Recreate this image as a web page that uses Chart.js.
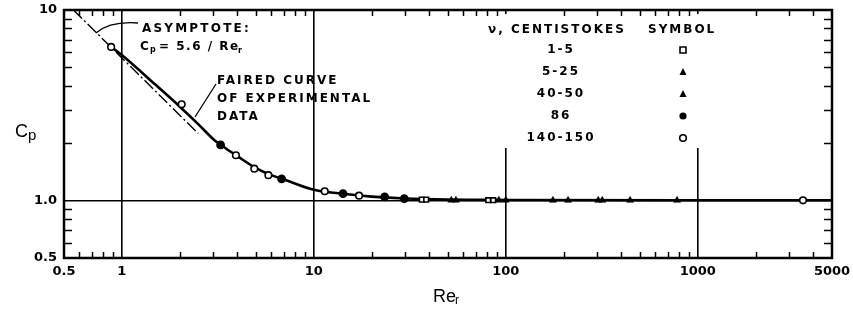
<!DOCTYPE html>
<html>
<head>
<meta charset="utf-8">
<script src="https://cdn.jsdelivr.net/npm/chart.js@4.4.0/dist/chart.umd.min.js"></script>
<style>
  html, body { margin: 0; padding: 0; background: #fff; }
  #wrap { width: 853px; height: 323px; }
</style>
</head>
<body>
<div id="wrap"><canvas id="cpChart" width="853" height="323"></canvas></div>
<script>
// Axis ticks
const xTicks = [0.5, 1, 10, 100, 1000, 5000];
const xTickLabels = ["0.5", "1", "10", "100", "1000", "5000"];
const xGrid = [1, 10, 100, 1000];
const xMinor = [0.6, 0.7, 0.8, 0.9, 2, 3, 4, 5, 6, 7, 8, 9, 20, 30, 40, 50, 60, 70, 80, 90,
                200, 300, 400, 500, 600, 700, 800, 900, 2000, 3000, 4000];
const yTicks = [0.5, 1, 10];
const yTickLabels = ["0.5", "1.0", "10"];
const yGrid = [1];
const yMinor = [0.6, 0.7, 0.8, 0.9, 2, 3, 4, 5, 6, 7, 8, 9];

// Faired curve of experimental data
const curveRe = [0.9, 1, 1.5, 2, 2.5, 3, 3.5, 4, 5, 6, 7, 10, 15, 20, 30, 50, 100, 1000, 5000];
const curveCp = [6.3, 5.8, 4.05, 3.12, 2.52, 2.1, 1.87, 1.71, 1.48, 1.36, 1.29, 1.14, 1.08, 1.05, 1.025, 1.012, 1.008, 1.005, 1.005];

// Asymptote Cp = 5.6 / Re (end points)
const asymRe = [0.56, 2.5];
const asymCp = [10, 2.25];

// Data by viscosity range (centistokes)
const re_1_5 = [36.5, 38.5, 81, 86];
const cp_1_5 = [1.012, 1.012, 1.005, 1.005];
const re_5_25 = [52, 55, 92, 100];
const cp_5_25 = [1.005, 1.005, 1.005, 1.005];
const re_40_50 = [176, 211, 303, 318, 444, 780];
const cp_40_50 = [1.003, 1.003, 1.003, 1.003, 1.003, 1.003];
const re_86 = [3.27, 6.8, 14.2, 23.4, 29.6];
const cp_86 = [1.96, 1.30, 1.088, 1.045, 1.025];
const re_140_150 = [0.88, 2.05, 3.93, 4.9, 5.8, 11.4, 17.2, 3530];
const cp_140_150 = [6.4, 3.2, 1.73, 1.47, 1.36, 1.12, 1.062, 1.003];

const legendRows = ["1-5", "5-25", "40-50", "86", "140-150"];

function pts(xs, ys) {
    return xs.map((x, i) => ({ x: x, y: ys[i] }));
}

function drawMarker(ctx, kind, x, y) {
    ctx.save();
    ctx.lineWidth = 1.6;
    ctx.strokeStyle = "#000";
    ctx.beginPath();
    if (kind === "square") {
        ctx.fillStyle = "#fff";
        ctx.rect(x - 3, y - 3, 6, 6);
        ctx.fill();
        ctx.stroke();
    } else if (kind === "triangle") {
        ctx.fillStyle = "#000";
        ctx.moveTo(x, y - 4);
        ctx.lineTo(x + 3.5, y + 3);
        ctx.lineTo(x - 3.5, y + 3);
        ctx.closePath();
        ctx.fill();
    } else if (kind === "dot") {
        ctx.fillStyle = "#000";
        ctx.arc(x, y, 3.6, 0, Math.PI * 2);
        ctx.fill();
    } else {
        ctx.fillStyle = "#fff";
        ctx.arc(x, y, 3.3, 0, Math.PI * 2);
        ctx.fill();
        ctx.stroke();
    }
    ctx.restore();
}

const legendKinds = ["square", "triangle", "triangle", "dot", "circle"];

const lettering = "DejaVu Sans, sans-serif";

const decorPlugin = {
    id: "decor",
    beforeDatasetsDraw(chart) {
        const ctx = chart.ctx;
        // legend area blanks out the grid lines behind it
        ctx.save();
        ctx.fillStyle = "#fff";
        ctx.fillRect(478, 14, 256, 134);
        ctx.restore();
    },
    afterDraw(chart) {
        const ctx = chart.ctx;
        const xs = chart.scales.x, ys = chart.scales.y;
        const a = chart.chartArea;
        ctx.save();
        ctx.strokeStyle = "#000";

        // minor ticks, pointing inward
        ctx.lineWidth = 1.5;
        xMinor.forEach(v => {
            const px = Math.round(xs.getPixelForValue(v)) + 0.5;
            ctx.beginPath();
            ctx.moveTo(px, a.bottom); ctx.lineTo(px, a.bottom - 6);
            ctx.moveTo(px, a.top); ctx.lineTo(px, a.top + 6);
            ctx.stroke();
        });
        yMinor.forEach(v => {
            const py = Math.round(ys.getPixelForValue(v)) + 0.5;
            ctx.beginPath();
            ctx.moveTo(a.left, py); ctx.lineTo(a.left + 8, py);
            ctx.moveTo(a.right, py); ctx.lineTo(a.right - 8, py);
            ctx.stroke();
        });

        // frame
        ctx.lineWidth = 2.5;
        ctx.strokeRect(a.left, a.top, a.right - a.left, a.bottom - a.top);

        // annotations
        ctx.fillStyle = "#000";
        ctx.textBaseline = "middle";
        ctx.textAlign = "left";
        ctx.font = "bold 12px " + lettering;
        ctx.letterSpacing = "2.2px";
        ctx.fillText("ASYMPTOTE:", 142, 29);
        ctx.fillText("C", 140, 47);
        ctx.font = "bold 8px " + lettering;
        ctx.letterSpacing = "0px";
        ctx.fillText("p", 150, 50);
        ctx.font = "bold 12px " + lettering;
        ctx.letterSpacing = "1.5px";
        ctx.fillText("= 5.6 / Re", 159, 47);
        ctx.font = "bold 8px " + lettering;
        ctx.letterSpacing = "0px";
        ctx.fillText("r", 238, 51);

        ctx.font = "bold 12px " + lettering;
        ctx.letterSpacing = "2px";
        ctx.fillText("FAIRED CURVE", 217, 81);
        ctx.fillText("OF EXPERIMENTAL", 217, 99);
        ctx.fillText("DATA", 217, 117);

        // leader lines
        ctx.lineWidth = 1.3;
        ctx.beginPath();
        ctx.moveTo(138, 23);
        ctx.quadraticCurveTo(110, 21, 96, 33);
        ctx.stroke();
        ctx.beginPath();
        ctx.moveTo(216, 84);
        ctx.lineTo(195, 117);
        ctx.stroke();

        // legend table
        ctx.letterSpacing = "2px";
        ctx.fillText("\u03bd, CENTISTOKES", 488, 30);
        ctx.fillText("SYMBOL", 648, 30);
        ctx.textAlign = "center";
        legendRows.forEach((t, i) => {
            const yy = 50 + i * 22;
            ctx.fillText(t, 561, yy);
            drawMarker(ctx, legendKinds[i], 683, yy);
        });

        // axis titles
        ctx.letterSpacing = "0px";
        ctx.textAlign = "left";
        ctx.font = "18px Liberation Sans, Arial, sans-serif";
        ctx.fillText("C", 15, 132);
        ctx.font = "15px Liberation Sans, Arial, sans-serif";
        ctx.fillText("p", 28, 136);
        ctx.font = "18px Liberation Sans, Arial, sans-serif";
        ctx.fillText("Re", 433, 297);
        ctx.font = "12px Liberation Sans, Arial, sans-serif";
        ctx.fillText("r", 455, 301);
        ctx.restore();
    }
};

function markerSet(label, xs, ys, kind) {
    const base = { label: label, data: pts(xs, ys), showLine: false, borderColor: "#000",
                   pointBorderWidth: 1.6, order: 0 };
    if (kind === "square") return Object.assign(base, { pointStyle: "rect", pointRadius: 3.3, backgroundColor: "#fff" });
    if (kind === "triangle") return Object.assign(base, { pointStyle: "triangle", pointRadius: 4, backgroundColor: "#000", pointBorderWidth: 0.5 });
    if (kind === "dot") return Object.assign(base, { pointStyle: "circle", pointRadius: 3.6, backgroundColor: "#000" });
    return Object.assign(base, { pointStyle: "circle", pointRadius: 3.3, backgroundColor: "#fff" });
}

new Chart(document.getElementById("cpChart"), {
    type: "scatter",
    data: {
        datasets: [
            { label: "Faired curve", data: pts(curveRe, curveCp), showLine: true, pointRadius: 0,
              borderColor: "#000", borderWidth: 2.6, cubicInterpolationMode: "monotone", order: 2 },
            { label: "Asymptote", data: pts(asymRe, asymCp), showLine: true, pointRadius: 0,
              borderColor: "#000", borderWidth: 1.4, borderDash: [12, 3, 2, 3], order: 2 },
            markerSet("1-5", re_1_5, cp_1_5, "square"),
            markerSet("5-25", re_5_25, cp_5_25, "triangle"),
            markerSet("40-50", re_40_50, cp_40_50, "triangle"),
            markerSet("86", re_86, cp_86, "dot"),
            markerSet("140-150", re_140_150, cp_140_150, "circle")
        ]
    },
    options: {
        responsive: false,
        animation: false,
        layout: { padding: { top: 10, right: 21, bottom: 0, left: 0 } },
        plugins: { legend: { display: false }, tooltip: { enabled: false } },
        scales: {
            x: {
                type: "logarithmic",
                min: 0.5,
                max: 5000,
                afterBuildTicks: s => { s.ticks = xTicks.map(v => ({ value: v })); },
                afterFit: s => { s.height = 65; s.paddingLeft = 0; s.paddingRight = 0; },
                ticks: {
                    autoSkip: false,
                    maxRotation: 0,
                    padding: 6,
                    color: "#000",
                    font: { family: "DejaVu Sans", size: 13, weight: "bold" },
                    callback: (v) => xTickLabels[xTicks.indexOf(v)]
                },
                grid: {
                    drawTicks: false,
                    lineWidth: 1.6,
                    color: c => (c.tick && xGrid.includes(c.tick.value)) ? "#000" : "rgba(0,0,0,0)"
                },
                border: { display: false }
            },
            y: {
                type: "logarithmic",
                min: 0.5,
                max: 10,
                afterBuildTicks: s => { s.ticks = yTicks.map(v => ({ value: v })); },
                afterFit: s => { s.width = 64; s.paddingTop = 0; s.paddingBottom = 0; },
                ticks: {
                    autoSkip: false,
                    padding: 7,
                    color: "#000",
                    font: { family: "DejaVu Sans", size: 13, weight: "bold" },
                    callback: (v) => yTickLabels[yTicks.indexOf(v)]
                },
                grid: {
                    drawTicks: false,
                    lineWidth: 1.6,
                    color: c => (c.tick && yGrid.includes(c.tick.value)) ? "#000" : "rgba(0,0,0,0)"
                },
                border: { display: false }
            }
        }
    },
    plugins: [decorPlugin]
});
</script>
</body>
</html>
